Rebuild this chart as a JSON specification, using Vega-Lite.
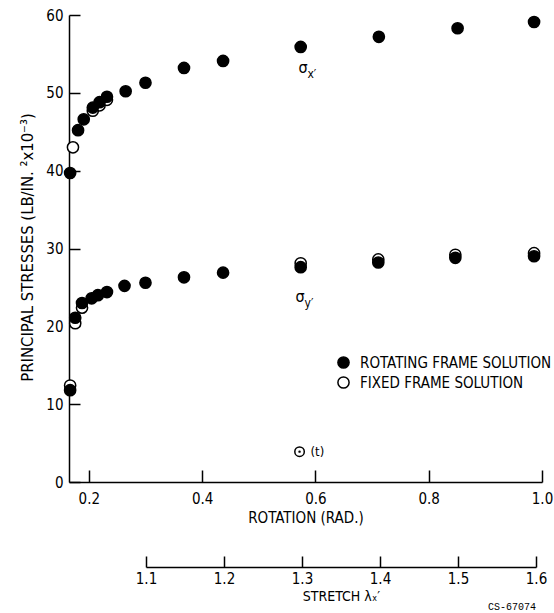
{
  "$schema": "https://vega.github.io/schema/vega-lite/v6.json",
  "background": "white",
  "padding": {"left": 19, "top": 8, "right": 5, "bottom": 0},
  "config": {
    "view": {"stroke": null},
    "font": "DejaVu Sans Condensed, Liberation Sans Narrow, DejaVu Sans, sans-serif",
    "axis": {
      "grid": false,
      "domainColor": "black",
      "tickColor": "black",
      "labelColor": "black",
      "titleColor": "black",
      "labelFont": "DejaVu Sans Condensed, Liberation Sans Narrow, DejaVu Sans, sans-serif",
      "titleFont": "DejaVu Sans Condensed, Liberation Sans Narrow, DejaVu Sans, sans-serif",
      "titleFontWeight": "normal",
      "domainWidth": 1.5,
      "tickWidth": 1.5,
      "labelFlush": false,
      "labelOverlap": false
    }
  },
  "datasets": {
    "pts": [
      {"rotation": 0.172, "stress": 43.0, "solution": "FIXED FRAME SOLUTION"},
      {"rotation": 0.207, "stress": 47.7, "solution": "FIXED FRAME SOLUTION"},
      {"rotation": 0.219, "stress": 48.4, "solution": "FIXED FRAME SOLUTION"},
      {"rotation": 0.232, "stress": 49.1, "solution": "FIXED FRAME SOLUTION"},
      {"rotation": 0.167, "stress": 12.4, "solution": "FIXED FRAME SOLUTION"},
      {"rotation": 0.176, "stress": 20.4, "solution": "FIXED FRAME SOLUTION"},
      {"rotation": 0.188, "stress": 22.4, "solution": "FIXED FRAME SOLUTION"},
      {"rotation": 0.574, "stress": 28.1, "solution": "FIXED FRAME SOLUTION"},
      {"rotation": 0.711, "stress": 28.6, "solution": "FIXED FRAME SOLUTION"},
      {"rotation": 0.847, "stress": 29.2, "solution": "FIXED FRAME SOLUTION"},
      {"rotation": 0.986, "stress": 29.4, "solution": "FIXED FRAME SOLUTION"},
      {"rotation": 0.167, "stress": 39.7, "solution": "ROTATING FRAME SOLUTION"},
      {"rotation": 0.181, "stress": 45.2, "solution": "ROTATING FRAME SOLUTION"},
      {"rotation": 0.191, "stress": 46.6, "solution": "ROTATING FRAME SOLUTION"},
      {"rotation": 0.207, "stress": 48.1, "solution": "ROTATING FRAME SOLUTION"},
      {"rotation": 0.219, "stress": 48.8, "solution": "ROTATING FRAME SOLUTION"},
      {"rotation": 0.232, "stress": 49.5, "solution": "ROTATING FRAME SOLUTION"},
      {"rotation": 0.265, "stress": 50.2, "solution": "ROTATING FRAME SOLUTION"},
      {"rotation": 0.300, "stress": 51.3, "solution": "ROTATING FRAME SOLUTION"},
      {"rotation": 0.368, "stress": 53.2, "solution": "ROTATING FRAME SOLUTION"},
      {"rotation": 0.437, "stress": 54.1, "solution": "ROTATING FRAME SOLUTION"},
      {"rotation": 0.574, "stress": 55.9, "solution": "ROTATING FRAME SOLUTION"},
      {"rotation": 0.712, "stress": 57.2, "solution": "ROTATING FRAME SOLUTION"},
      {"rotation": 0.851, "stress": 58.3, "solution": "ROTATING FRAME SOLUTION"},
      {"rotation": 0.986, "stress": 59.1, "solution": "ROTATING FRAME SOLUTION"},
      {"rotation": 0.167, "stress": 11.8, "solution": "ROTATING FRAME SOLUTION"},
      {"rotation": 0.176, "stress": 21.1, "solution": "ROTATING FRAME SOLUTION"},
      {"rotation": 0.188, "stress": 23.0, "solution": "ROTATING FRAME SOLUTION"},
      {"rotation": 0.205, "stress": 23.6, "solution": "ROTATING FRAME SOLUTION"},
      {"rotation": 0.216, "stress": 24.0, "solution": "ROTATING FRAME SOLUTION"},
      {"rotation": 0.232, "stress": 24.4, "solution": "ROTATING FRAME SOLUTION"},
      {"rotation": 0.263, "stress": 25.2, "solution": "ROTATING FRAME SOLUTION"},
      {"rotation": 0.300, "stress": 25.6, "solution": "ROTATING FRAME SOLUTION"},
      {"rotation": 0.368, "stress": 26.3, "solution": "ROTATING FRAME SOLUTION"},
      {"rotation": 0.437, "stress": 26.9, "solution": "ROTATING FRAME SOLUTION"},
      {"rotation": 0.574, "stress": 27.6, "solution": "ROTATING FRAME SOLUTION"},
      {"rotation": 0.711, "stress": 28.2, "solution": "ROTATING FRAME SOLUTION"},
      {"rotation": 0.847, "stress": 28.8, "solution": "ROTATING FRAME SOLUTION"},
      {"rotation": 0.986, "stress": 29.0, "solution": "ROTATING FRAME SOLUTION"}
    ],
    "tpt": [{"rotation": 0.572, "stress": 3.9, "label": "(t)"}],
    "labels": [
      {"rotation": 0.570, "stress": 53.2, "sym": "σ", "sub": "x′"},
      {"rotation": 0.565, "stress": 23.8, "sym": "σ", "sub": "y′"}
    ],
    "stretch": [{"stretch": 1.1}, {"stretch": 1.2}, {"stretch": 1.3}, {"stretch": 1.4}, {"stretch": 1.5}, {"stretch": 1.6}],
    "note": [{"stretch": 1.6, "label": "CS-67074"}]
  },
  "bounds": "flush",
  "spacing": 84,
  "vconcat": [
    {
      "width": 473,
      "height": 467,
      "layer": [
        {
          "data": {"name": "pts"},
          "mark": {"type": "point", "shape": "circle", "size": 125, "stroke": "black", "strokeWidth": 1.5, "opacity": 1},
          "encoding": {
            "x": {
              "field": "rotation", "type": "quantitative",
              "scale": {"domain": [0.165, 1.0], "nice": false, "zero": false},
              "axis": {
                "values": [0.2, 0.4, 0.6, 0.8, 1.0], "format": ".1f",
                "title": "ROTATION (RAD.)",
                "tickSize": -12, "labelPadding": 21,
                "labelFontSize": 15, "titleFontSize": 15, "titlePadding": 4
              }
            },
            "y": {
              "field": "stress", "type": "quantitative",
              "scale": {"domain": [0, 60], "nice": false},
              "axis": {
                "values": [0, 10, 20, 30, 40, 50, 60],
                "title": "PRINCIPAL STRESSES (LB/IN. ²x10⁻³)",
                "tickSize": -11, "labelPadding": 17,
                "labelFontSize": 15, "titleFontSize": 16.5, "titlePadding": 10,
                "titleY": 232
              }
            },
            "fill": {
              "field": "solution", "type": "nominal",
              "scale": {"domain": ["ROTATING FRAME SOLUTION", "FIXED FRAME SOLUTION"], "range": ["black", "white"]},
              "legend": {
                "orient": "none", "legendX": 267, "legendY": 340,
                "title": null, "symbolType": "circle", "symbolSize": 125,
                "symbolStrokeColor": "black", "symbolStrokeWidth": 1.5,
                "labelFontSize": 15, "labelColor": "black",
                "labelFont": "DejaVu Sans Condensed, Liberation Sans Narrow, DejaVu Sans, sans-serif",
                "rowPadding": 1, "labelOffset": 9, "padding": 0, "labelLimit": 400
              }
            }
          }
        },
        {
          "data": {"name": "tpt"},
          "mark": {"type": "point", "shape": "circle", "size": 90, "stroke": "black", "strokeWidth": 1.5, "fill": "white", "opacity": 1},
          "encoding": {
            "x": {"field": "rotation", "type": "quantitative"},
            "y": {"field": "stress", "type": "quantitative"}
          }
        },
        {
          "data": {"name": "tpt"},
          "mark": {"type": "point", "shape": "circle", "size": 6, "filled": true, "color": "black", "opacity": 1},
          "encoding": {
            "x": {"field": "rotation", "type": "quantitative"},
            "y": {"field": "stress", "type": "quantitative"}
          }
        },
        {
          "data": {"name": "tpt"},
          "mark": {"type": "text", "align": "left", "baseline": "middle", "dx": 11, "fontSize": 13, "color": "black"},
          "encoding": {
            "x": {"field": "rotation", "type": "quantitative"},
            "y": {"field": "stress", "type": "quantitative"},
            "text": {"field": "label"}
          }
        },
        {
          "data": {"name": "labels"},
          "mark": {"type": "text", "align": "left", "baseline": "middle", "fontSize": 16, "color": "black"},
          "encoding": {
            "x": {"field": "rotation", "type": "quantitative"},
            "y": {"field": "stress", "type": "quantitative"},
            "text": {"field": "sym"}
          }
        },
        {
          "data": {"name": "labels"},
          "mark": {"type": "text", "align": "left", "baseline": "middle", "dx": 9, "dy": 6, "fontSize": 12, "color": "black"},
          "encoding": {
            "x": {"field": "rotation", "type": "quantitative"},
            "y": {"field": "stress", "type": "quantitative"},
            "text": {"field": "sub"}
          }
        }
      ]
    },
    {
      "width": 473,
      "height": 1,
      "layer": [
        {
          "data": {"name": "stretch"},
          "mark": {"type": "point", "opacity": 0},
          "encoding": {
            "x": {
              "field": "stretch", "type": "quantitative",
              "scale": {"domain": [1.1, 1.6], "range": [77, 467], "nice": false, "zero": false},
              "axis": {
                "values": [1.1, 1.2, 1.3, 1.4, 1.5, 1.6], "format": ".1f",
                "title": "STRETCH  λₓ′",
                "tickSize": -11, "labelPadding": 15,
                "labelFontSize": 15, "titleFontSize": 14, "titlePadding": 3
              }
            }
          }
        },
        {
          "data": {"name": "note"},
          "mark": {"type": "text", "align": "right", "baseline": "middle", "dy": 40, "font": "Liberation Mono", "fontSize": 10, "color": "black"},
          "encoding": {
            "x": {"field": "stretch", "type": "quantitative"},
            "text": {"field": "label"}
          }
        }
      ]
    }
  ]
}
